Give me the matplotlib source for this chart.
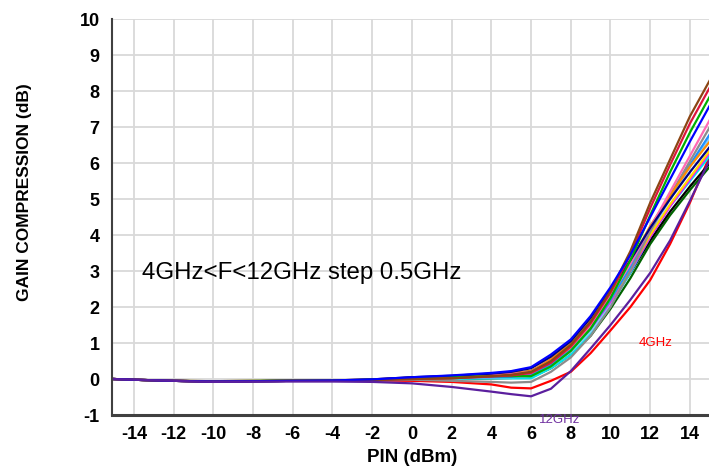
import numpy as np
import matplotlib.pyplot as plt

plt.rcParams['font.family'] = ['Liberation Sans', 'DejaVu Sans']
plt.rcParams['axes.unicode_minus'] = False

# Input power sweep (dBm)
pin = [-15, -14, -12, -10, -8, -6, -4, -2, 0, 2, 4, 5, 6, 7, 8, 9, 10, 11, 12, 13, 14, 15]

# Gain compression (dB), one curve per frequency, 4 GHz .. 12 GHz
gc_4g = [0, -0.02, -0.05, -0.07, -0.06, -0.05, -0.05, -0.04, -0.05, -0.08, -0.15, -0.24, -0.26, -0.05, 0.2, 0.72, 1.35, 2.0, 2.75, 3.75, 4.9, 6.2]
gc_brown = [0, -0.02, -0.05, -0.07, -0.06, -0.05, -0.05, -0.03, 0.0, 0.02, 0.08, 0.12, 0.2, 0.5, 0.95, 1.6, 2.45, 3.55, 4.9, 6.1, 7.3, 8.3]
gc_crimson = [0, -0.02, -0.05, -0.07, -0.06, -0.05, -0.05, -0.03, 0.0, 0.02, 0.07, 0.1, 0.17, 0.45, 0.9, 1.55, 2.4, 3.45, 4.75, 5.95, 7.1, 8.1]
gc_green = [0, -0.02, -0.05, -0.06, -0.05, -0.04, -0.04, -0.02, 0.02, 0.05, 0.08, 0.08, 0.08, 0.35, 0.78, 1.4, 2.25, 3.3, 4.55, 5.75, 6.85, 7.85]
gc_blue = [0, -0.02, -0.05, -0.07, -0.06, -0.05, -0.04, -0.01, 0.05, 0.1, 0.17, 0.22, 0.33, 0.68, 1.1, 1.75, 2.55, 3.45, 4.5, 5.55, 6.6, 7.6]
gc_gray = [0, -0.02, -0.05, -0.07, -0.06, -0.05, -0.05, -0.04, -0.02, -0.05, -0.08, -0.1, -0.08, 0.2, 0.6, 1.2, 2.0, 3.0, 4.1, 5.1, 6.05, 7.0]
gc_dodger = [0, -0.02, -0.05, -0.07, -0.06, -0.05, -0.05, -0.02, 0.02, 0.04, 0.05, 0.06, 0.1, 0.4, 0.8, 1.4, 2.2, 3.1, 4.2, 5.1, 5.95, 6.8]
gc_orange = [0, -0.02, -0.05, -0.06, -0.05, -0.05, -0.04, -0.01, 0.04, 0.08, 0.13, 0.16, 0.22, 0.55, 0.98, 1.6, 2.4, 3.25, 4.25, 5.1, 5.9, 6.6]
gc_yellow = [0, -0.02, -0.05, -0.07, -0.06, -0.05, -0.05, -0.02, 0.03, 0.06, 0.1, 0.13, 0.17, 0.45, 0.88, 1.45, 2.2, 3.05, 4.0, 4.85, 5.6, 6.35]
gc_magenta = [0, -0.02, -0.05, -0.07, -0.06, -0.05, -0.05, -0.02, 0.03, 0.05, 0.09, 0.11, 0.14, 0.42, 0.82, 1.4, 2.15, 3.0, 3.95, 4.8, 5.55, 6.3]
gc_cyan = [0, -0.02, -0.05, -0.07, -0.06, -0.05, -0.05, -0.03, 0.0, 0.0, 0.02, 0.02, 0.02, 0.3, 0.67, 1.25, 2.05, 2.95, 3.95, 4.8, 5.5, 6.2]
gc_navy = [0, -0.02, -0.05, -0.07, -0.06, -0.05, -0.04, -0.01, 0.05, 0.09, 0.15, 0.2, 0.3, 0.62, 1.05, 1.7, 2.5, 3.3, 4.2, 5.0, 5.75, 6.45]
gc_black = [0, -0.02, -0.05, -0.07, -0.06, -0.05, -0.05, -0.02, 0.04, 0.07, 0.12, 0.15, 0.22, 0.5, 0.9, 1.45, 2.15, 2.95, 3.85, 4.65, 5.35, 6.0]
gc_dkgreen = [0, -0.02, -0.05, -0.07, -0.06, -0.05, -0.05, -0.03, 0.0, 0.0, 0.02, 0.03, 0.05, 0.3, 0.68, 1.2, 1.95, 2.8, 3.75, 4.55, 5.25, 5.9]
gc_pink = [0, -0.02, -0.05, -0.06, -0.05, -0.05, -0.04, -0.02, 0.03, 0.06, 0.1, 0.14, 0.2, 0.5, 0.9, 1.5, 2.3, 3.2, 4.2, 5.2, 6.2, 7.2]
gc_ltblue = [0, -0.02, -0.05, -0.07, -0.06, -0.05, -0.05, -0.03, 0.01, 0.02, 0.04, 0.05, 0.08, 0.35, 0.75, 1.32, 2.1, 3.0, 4.05, 5.0, 5.9, 6.7]
gc_12g = [0, -0.02, -0.05, -0.08, -0.07, -0.07, -0.07, -0.08, -0.12, -0.22, -0.35, -0.42, -0.48, -0.27, 0.22, 0.85, 1.5, 2.2, 2.95, 3.85, 4.95, 6.1]

curves = [
    (gc_4g, '#ff0000'),
    (gc_dkgreen, '#006400'),
    (gc_black, '#000000'),
    (gc_cyan, '#00e5ee'),
    (gc_ltblue, '#87cefa'),
    (gc_magenta, '#ff00ff'),
    (gc_yellow, '#ffd700'),
    (gc_dodger, '#1e90ff'),
    (gc_gray, '#8c8c8c'),
    (gc_orange, '#ff8c00'),
    (gc_pink, '#ff69b4'),
    (gc_navy, '#000080'),
    (gc_green, '#00b000'),
    (gc_crimson, '#dc143c'),
    (gc_brown, '#8b4513'),
    (gc_blue, '#0000ff'),
    (gc_12g, '#5b1f9e'),
]

fig = plt.figure(figsize=(7.09, 4.68), dpi=100)
ax = fig.add_axes([0.158, 0.1132, 0.842, 0.846])

for vals, col in curves:
    ax.plot(pin, vals, color=col, lw=1.6, solid_joinstyle='round')

ax.set_xlim(-15.1, 14.96)
ax.set_ylim(-1, 10)
ax.set_xticks(np.arange(-14, 15, 2))
ax.set_yticks(np.arange(-1, 11, 1))
ax.grid(True, color='#d9d9d9', lw=1.3)
ax.set_axisbelow(True)
ax.tick_params(axis='x', length=0, pad=8, labelsize=13)
ax.tick_params(axis='y', length=0, pad=9, labelsize=13)
for lab in ax.get_xticklabels() + ax.get_yticklabels():
    lab.set_fontweight('bold')

for s in ['top', 'right']:
    ax.spines[s].set_visible(False)
ax.spines['left'].set_color('#404040')
ax.spines['left'].set_linewidth(1.5)
ax.spines['bottom'].set_color('#404040')
ax.spines['bottom'].set_linewidth(2.2)

ax.set_xlabel('PIN (dBm)', fontsize=13.5, fontweight='bold')
ax.xaxis.set_label_coords(0.503, -0.085)
ax.set_ylabel('GAIN COMPRESSION (dB)', fontsize=12.5, fontweight='bold')
ax.yaxis.set_label_coords(-0.134, 0.562)

ax.text(-13.6, 2.94, '4GHz<F<12GHz step 0.5GHz', fontsize=17.3, va='center', ha='left')
ax.text(11.4, 1.0, '4GHz', fontsize=9.5, color='#ff0000', va='center', ha='left')
ax.text(6.4, -1.15, '12GHz', fontsize=9.5, color='#7030a0', va='center', ha='left', clip_on=False)

fig.savefig('out.png', dpi=100)
